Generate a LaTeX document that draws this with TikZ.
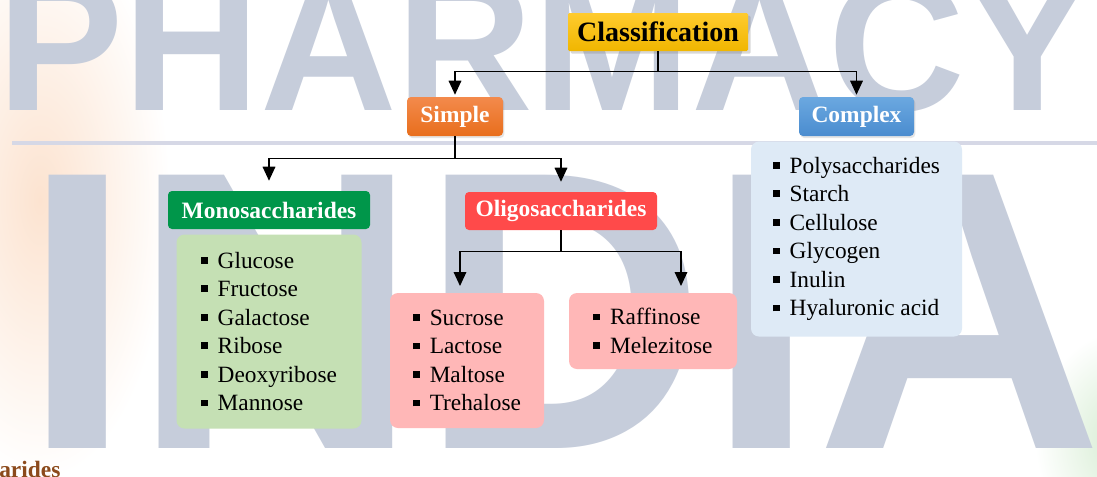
\documentclass[tikz,border=0pt]{standalone}
\usepackage{fontspec}
\setmainfont{Liberation Serif}
\newfontfamily\wmfont{Liberation Sans}
\usetikzlibrary{shapes, arrows.meta, positioning, shadows}

\definecolor{wmgray}{HTML}{C6CDDB}
\definecolor{wmline}{HTML}{D6D8E6}
\definecolor{glowleft}{HTML}{FCE3D0}
\definecolor{glowright}{HTML}{D3EBCF}
\definecolor{clstop}{HTML}{FFCB2E}
\definecolor{clsbot}{HTML}{F0B600}
\definecolor{simtop}{HTML}{F38A4C}
\definecolor{simbot}{HTML}{E86E1C}
\definecolor{cpxtop}{HTML}{6BA8E0}
\definecolor{cpxbot}{HTML}{4A8CCF}
\definecolor{monohead}{HTML}{00964A}
\definecolor{oligohead}{HTML}{FF4A4A}
\definecolor{monofill}{HTML}{C5E0B4}
\definecolor{oligofill}{HTML}{FFB7B7}
\definecolor{cpxfill}{HTML}{DEEAF6}
\definecolor{brownish}{HTML}{8C4A1C}

\newcommand{\bul}{\rule[3.5pt]{5pt}{5pt}\hspace{7.5pt}}

\begin{document}
\begin{tikzpicture}[
      x=0.75pt, y=-0.75pt,
      head/.style={rectangle, rounded corners=3pt, text centered, inner sep=0pt, text=white, font=\fontsize{17.6}{21}\selectfont\bfseries},
      list/.style={rectangle, rounded corners=6pt, align=left, inner sep=0pt, font=\fontsize{17.5}{21.4}\selectfont},
      wm/.style={anchor=base west, inner sep=0pt, text=wmgray},
      arrow/.style={line width=0.9pt, -{Triangle[width=9.5pt,length=10.5pt]}}
    ]
      \useasboundingbox (0,0) rectangle (1097,476);
      \fill[white] (0,0) rectangle (1097,476);
      \shade[inner color=glowleft, outer color=white] (40,200) ellipse (130 and 280);
      \shade[inner color=glowright, outer color=white] (1125,440) ellipse (90 and 110);

      % watermark
      \node (wmtop) [wm, font=\wmfont\bfseries\fontsize{142}{142}\selectfont] at (-3,110) {PHARMACY};
      \node (wmbot) [wm, font=\wmfont\bfseries\fontsize{298}{298}\selectfont] at (22,448) {INDIA};
      \draw[line width=3pt, wmline] (12,143) -- (1097,143);

      % heads
      \node (class) [head, text=black, top color=clstop, bottom color=clsbot, rounded corners=1pt,
        drop shadow={shadow xshift=2pt, shadow yshift=-2pt, opacity=0.3},
        minimum width=135pt, minimum height=28.5pt, font=\fontsize{21}{24}\selectfont\bfseries] at (658,32) {Classification};
      \node (simple) [head, top color=simtop, bottom color=simbot,
        drop shadow={shadow xshift=1pt, shadow yshift=-1.5pt, opacity=0.2},
        minimum width=72pt, minimum height=29.25pt] at (455,116.5) {Simple};
      \node (complex) [head, top color=cpxtop, bottom color=cpxbot,
        drop shadow={shadow xshift=1pt, shadow yshift=-1.5pt, opacity=0.2},
        minimum width=86.25pt, minimum height=29.25pt] at (856.5,116.5) {Complex};
      \node (mono) [head, fill=monohead, minimum width=151.5pt, minimum height=28.5pt] at (269,210) {Monosaccharides};
      \node (oligo) [head, fill=oligohead, minimum width=144pt, minimum height=28.5pt] at (561,211) {Oligosaccharides};

      % lists
      \node (cpxlist) [list, fill=cpxfill, minimum width=158.25pt, minimum height=146.25pt, below=3.75pt of complex]
        {\bul Polysaccharides\\ \bul Starch\\ \bul Cellulose\\ \bul Glycogen\\ \bul Inulin\\ \bul Hyaluronic acid};
      \node (monolist) [list, fill=monofill, minimum width=138.75pt, minimum height=145.5pt, below=3.75pt of mono]
        {\bul Glucose\\ \bul Fructose\\ \bul Galactose\\ \bul Ribose\\ \bul Deoxyribose\\ \bul Mannose};
      \node (dilist) [list, fill=oligofill, minimum width=115.5pt, minimum height=101.25pt] at (467,360.5)
        {\bul Sucrose\\ \bul Lactose\\ \bul Maltose\\ \bul Trehalose};
      \node (trilist) [list, fill=oligofill, minimum width=126pt, minimum height=57pt] at (653,331)
        {\bul Raffinose\\ \bul Melezitose};

      \node (frag) [anchor=base west, inner sep=0pt, text=brownish, font=\fontsize{17.6}{21}\selectfont\bfseries] at (-1,477) {arides};

      % connectors
      \coordinate (diin) at (460,286);
      \coordinate (triin) at (681,286);
      \draw [arrow, shorten >=1.5pt] (class.south) -- ++(0,20) -| (simple.north);
      \draw [arrow, shorten >=1.5pt] (class.south) -- ++(0,20) -| (complex.north);
      \draw [arrow, shorten >=7.5pt] (simple.south) -- ++(0,22) -| (mono.north);
      \draw [arrow, shorten >=7.5pt] (simple.south) -- ++(0,22) -| (oligo.north);
      \draw [arrow] (oligo.south) -- ++(0,21) -| (diin);
      \draw [arrow] (oligo.south) -- ++(0,21) -| (triin);
    \end{tikzpicture}
\end{document}
